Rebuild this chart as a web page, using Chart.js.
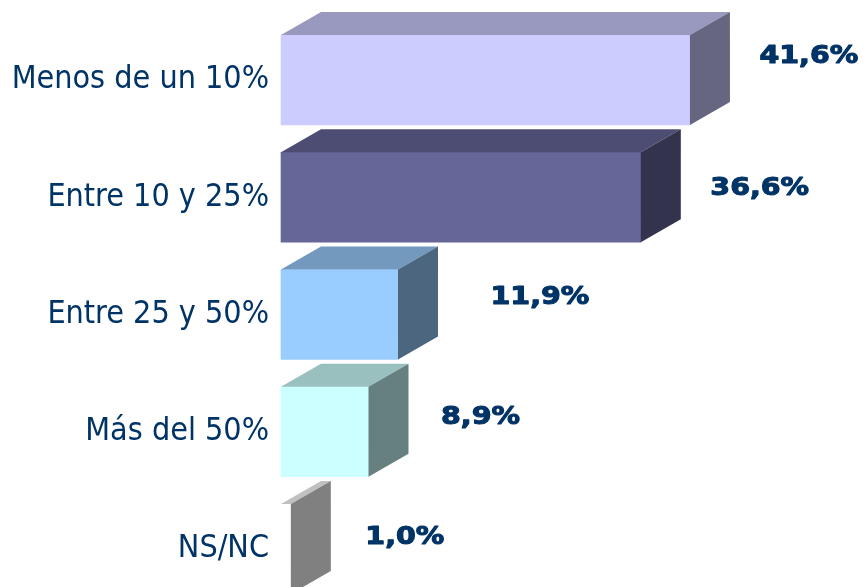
<!DOCTYPE html>
<html>
<head>
<meta charset="utf-8">
<script src="https://cdn.jsdelivr.net/npm/chart.js@4/dist/chart.umd.min.js"></script>
<style>
  html, body { margin: 0; padding: 0; background: #ffffff; }
  #wrap { width: 867px; height: 587px; position: relative; }
</style>
</head>
<body>
<div id="wrap"><canvas id="chart"></canvas></div>
<script>
const categories = ["Menos de un 10%", "Entre 10 y 25%", "Entre 25 y 50%", "Más del 50%", "NS/NC"];
const percents = [41.6, 36.6, 11.9, 8.9, 1.0];

// face colours for each bar: front, top, right side
const frontColors = ["#CCCCFF", "#666699", "#99CCFF", "#CCFFFF", "#FFFFFF"];
const topColors = ["#9999BF", "#4D4D73", "#7399BF", "#99BFBF", "#C0C0C0"];
const sideColors = ["#666680", "#33334D", "#4D6680", "#668080", "#808080"];

// value label nudges, measured from the back edge of each bar
const labelShiftX = [29, 29, 52, 32, 34];
const labelShiftY = [-24, -9, -17, -14, -12];

const DEPTH_X = 40;
const DEPTH_Y = 23;
const NAVY = "#003366";

const fmt = v => v.toFixed(1).replace(".", ",") + "%";

const boxes3d = {
  id: "boxes3d",
  afterDatasetsDraw(chart) {
    const ctx = chart.ctx;
    const meta = chart.getDatasetMeta(0);
    meta.data.forEach((bar, i) => {
      const p = bar.getProps(["x", "y", "base", "height"], true);
      const top = p.y - p.height / 2;
      const bottom = p.y + p.height / 2;

      ctx.save();
      // top face
      ctx.fillStyle = topColors[i];
      ctx.beginPath();
      ctx.moveTo(p.base, top);
      ctx.lineTo(p.x, top);
      ctx.lineTo(p.x + DEPTH_X, top - DEPTH_Y);
      ctx.lineTo(p.base + DEPTH_X, top - DEPTH_Y);
      ctx.closePath();
      ctx.fill();

      // right face
      ctx.fillStyle = sideColors[i];
      ctx.beginPath();
      ctx.moveTo(p.x, top);
      ctx.lineTo(p.x + DEPTH_X, top - DEPTH_Y);
      ctx.lineTo(p.x + DEPTH_X, bottom - DEPTH_Y);
      ctx.lineTo(p.x, bottom);
      ctx.closePath();
      ctx.fill();

      // value label, stretched and outlined for a wide heavy face
      ctx.translate(p.x + DEPTH_X + labelShiftX[i] + 0.5, p.y + labelShiftY[i]);
      ctx.scale(1.14, 1);
      ctx.fillStyle = NAVY;
      ctx.strokeStyle = NAVY;
      ctx.lineWidth = 1.1;
      ctx.lineJoin = "round";
      ctx.font = "bold 25px 'DejaVu Sans', Verdana, sans-serif";
      ctx.textAlign = "left";
      ctx.textBaseline = "middle";
      ctx.fillText(fmt(percents[i]), 0, 0);
      ctx.strokeText(fmt(percents[i]), 0, 0);
      ctx.restore();
    });
  }
};

new Chart(document.getElementById("chart"), {
  type: "bar",
  data: {
    labels: categories,
    datasets: [{
      data: percents,
      backgroundColor: frontColors,
      borderWidth: 0,
      barThickness: 90,
      clip: false
    }]
  },
  options: {
    indexAxis: "y",
    responsive: true,
    maintainAspectRatio: false,
    animation: false,
    layout: { padding: { top: 80, bottom: 38, left: 0, right: 6 } },
    plugins: {
      legend: { display: false },
      tooltip: { enabled: false }
    },
    scales: {
      x: {
        display: false,
        min: 0,
        max: 59
      },
      y: {
        offset: false,
        border: { display: false },
        grid: { display: false, drawTicks: false },
        afterFit(scale) { scale.width = 281; },
        ticks: {
          padding: 12,
          color: NAVY,
          font: { family: "'DejaVu Sans Condensed', 'Liberation Sans', Arial, sans-serif", size: 32 }
        }
      }
    }
  },
  plugins: [boxes3d]
});
</script>
</body>
</html>
